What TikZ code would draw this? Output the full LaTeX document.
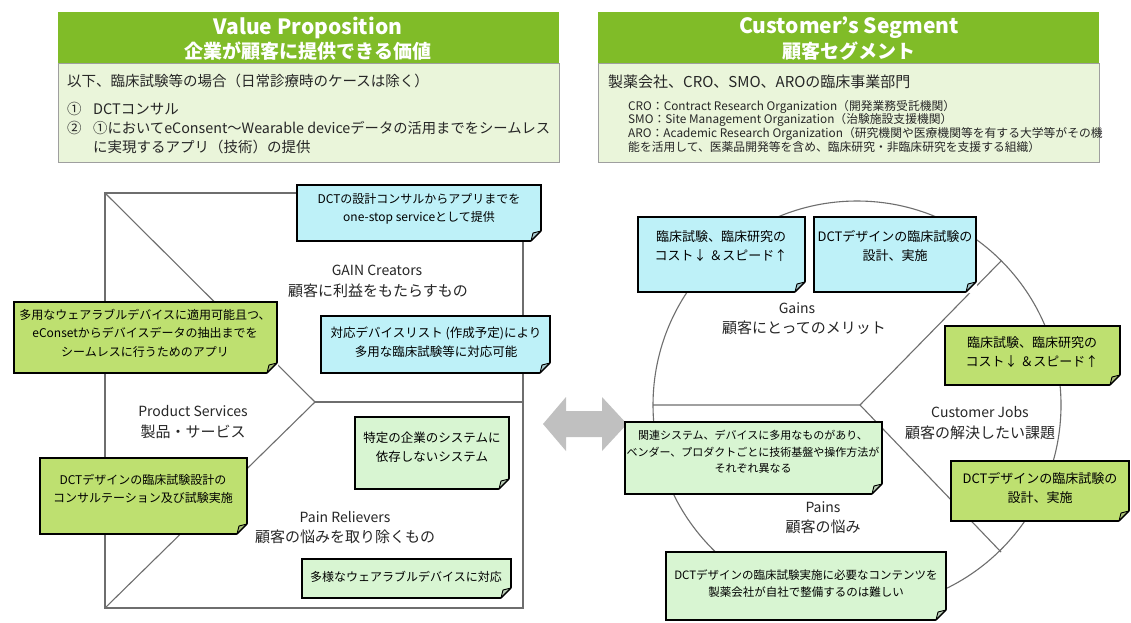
\documentclass[tikz,border=0pt]{standalone}
\usepackage{fontspec}
\setmainfont{Noto Sans CJK JP}
\definecolor{hdrgreen}{HTML}{80BC28}
\definecolor{hdrlight}{HTML}{EAF5DA}
\definecolor{noteblue}{HTML}{BEF1F8}
\definecolor{notegreen}{HTML}{BEE070}
\definecolor{notelight}{HTML}{D8F5D2}
\definecolor{linegray}{HTML}{6E6E6E}
\definecolor{arrowgray}{HTML}{C0C0C0}
\definecolor{txtdark}{HTML}{262626}
\newcommand\fsz[2]{\fontsize{#1}{#2}\selectfont}
\newcommand\fold[2]{%
  \fill[white] ([xshift=-10.5pt,yshift=-1pt]#1.south east) -- ([xshift=1pt,yshift=10.5pt]#1.south east) -- ([xshift=1pt,yshift=-1pt]#1.south east) -- cycle;
  \filldraw[fill=#2!65!gray, draw=black, line width=0.9pt, line join=round] ([xshift=-10pt]#1.south east) -- ([xshift=-8pt,yshift=8pt]#1.south east) -- ([yshift=10pt]#1.south east) -- cycle;
  \draw[black, line width=1.2pt] ([xshift=-10pt]#1.south east) -- ([yshift=10pt]#1.south east);
}
\tikzset{
  canvas/.style={draw=linegray, line width=1.1pt},
  notebox/.style={draw=black, line width=1.2pt, inner sep=0pt, outer sep=0pt, anchor=north west},
  notetxt/.style={align=center, inner sep=0pt, text=black, font=\fsz{12}{18.5}},
  lbl/.style={align=center, inner sep=0pt, text=txtdark},
  hdrbox/.style={fill=hdrgreen, inner sep=0pt, outer sep=0pt, anchor=north west, minimum width=501pt, minimum height=51pt},
  bodybox/.style={fill=hdrlight, draw=gray!75, line width=0.8pt, inner sep=0pt, outer sep=0pt, anchor=north west, minimum width=501pt, minimum height=99pt},
  hdrtxt/.style={inner sep=0pt, text=white, font=\bfseries},
  bodytxt/.style={inner sep=0pt, anchor=west, text=txtdark},
}
\begin{document}
\begin{tikzpicture}[x=1pt,y=-1pt]
\useasboundingbox[fill=white] (0,0) rectangle (1131,622);

% ---------- headers ----------
\node[hdrbox] (hl) at (58,12) {};
\node[bodybox] (hlb) at (58,63) {};
\node[hdrtxt, font=\bfseries\fsz{21}{24}] (hlt1) at (308,28) {Value Proposition};
\node[hdrtxt, font=\bfseries\fsz{19}{23}] (hlt2) at (308,51) {企業が顧客に提供できる価値};
\node[bodytxt, font=\fsz{14.5}{17}] (hla) at (67,81) {以下、臨床試験等の場合（日常診療時のケースは除く）};
\node[bodytxt, font=\fsz{14.5}{17}] (hln1) at (67,109) {①};
\node[bodytxt, font=\fsz{14.5}{17}] (hl1) at (93,109) {DCTコンサル};
\node[bodytxt, font=\fsz{14.5}{17}] (hln2) at (67,128) {②};
\node[bodytxt, font=\fsz{14.3}{17}] (hl2) at (93,128) {①においてeConsent～Wearable deviceデータの活用までをシームレス};
\node[bodytxt, font=\fsz{14.5}{17}] (hl3) at (93,147) {に実現するアプリ（技術）の提供};

\node[hdrbox] (hr) at (598,12) {};
\node[bodybox] (hrb) at (598,63) {};
\node[hdrtxt, font=\bfseries\fsz{21}{24}] (hrt1) at (849,28) {Customer’s Segment};
\node[hdrtxt, font=\bfseries\fsz{19}{23}] (hrt2) at (849,51) {顧客セグメント};
\node[bodytxt, font=\fsz{15}{17}] (hra) at (608,82) {製薬会社、CRO、SMO、AROの臨床事業部門};
\node[bodytxt, anchor=north west, align=left, font=\fsz{11.8}{13.6}] (hrs) at (628,100) {CRO：Contract Research Organization（開発業務受託機関）\\SMO：Site Management Organization（治験施設支援機関）\\ARO：Academic Research Organization（研究機関や医療機関等を有する大学等がその機\\能を活用して、医薬品開発等を含め、臨床研究・非臨床研究を支援する組織）};

% ---------- left canvas ----------
\coordinate (ctl) at (105,193);
\coordinate (ctr) at (523,193);
\coordinate (cbr) at (523,608);
\coordinate (cbl) at (105,608);
\coordinate (cv) at (315,402);
\coordinate (cvr) at (523,402);
\draw[canvas] (ctl) -- (ctr) -- (cbr) -- (cbl) -- cycle;
\draw[canvas] (ctl) -- (cv) -- (cbl);
\draw[canvas] (cv) -- (cvr);

% ---------- right circle ----------
\coordinate (cc) at (857,405);
\draw[canvas] (cc) circle[radius=204];
\coordinate (rv) at (860,405);
\coordinate (rl) at (653,405);
\coordinate (rur) at (1001,261);
\coordinate (rlr) at (1001,552);
\draw[canvas] (rl) -- (rv) -- (rur);
\draw[canvas] (rv) -- (rlr);

% ---------- arrow ----------
\fill[arrowgray] (543,424) -- (566,397) -- (566,411) -- (602,411) -- (602,397) -- (627,424) -- (602,451) -- (602,437) -- (566,437) -- (566,451) -- cycle;

% ---------- left notes ----------
\node[notebox, fill=noteblue, minimum width=244pt, minimum height=56pt] (lb1) at (297,185) {};
\fold{lb1}{noteblue}
\node[notetxt] (lb1t) at (419,209) {DCTの設計コンサルからアプリまでを\\one-stop serviceとして提供};

\node[notebox, fill=notegreen, minimum width=263pt, minimum height=71pt] (lg1) at (14,302) {};
\fold{lg1}{notegreen}
\node[notetxt] (lg1t) at (145,333) {多用なウェアラブルデバイスに適用可能且つ、\\eConsetからデバイスデータの抽出までを\\シームレスに行うためのアプリ};

\node[notebox, fill=noteblue, minimum width=229pt, minimum height=57pt] (lb2) at (321,316) {};
\fold{lb2}{noteblue}
\node[notetxt, font=\fsz{12.5}{19}] (lb2t) at (436,342) {対応デバイスリスト (作成予定)により\\多用な臨床試験等に対応可能};

\node[notebox, fill=notelight, minimum width=154pt, minimum height=72pt] (lg2) at (355,417) {};
\fold{lg2}{notelight}
\node[notetxt, font=\fsz{12.5}{19}] (lg2t) at (432,447) {特定の企業のシステムに\\依存しないシステム};

\node[notebox, fill=notegreen, minimum width=207pt, minimum height=76pt] (lg3) at (40,458) {};
\fold{lg3}{notegreen}
\node[notetxt] (lg3t) at (143,489) {DCTデザインの臨床試験設計の\\コンサルテーション及び試験実施};

\node[notebox, fill=notelight, minimum width=209pt, minimum height=39pt] (lg4) at (302,559) {};
\fold{lg4}{notelight}
\node[notetxt] (lg4t) at (406,577) {多様なウェアラブルデバイスに対応};

% left labels
\node[lbl, font=\fsz{14}{16}] (gcl) at (377,270) {GAIN Creators};
\node[lbl, font=\fsz{15}{17}] (gcj) at (378,291) {顧客に利益をもたらすもの};
\node[lbl, font=\fsz{14}{16}] (psl) at (193,411) {Product Services};
\node[lbl, font=\fsz{15}{17}] (psj) at (193,432) {製品・サービス};
\node[lbl, font=\fsz{14}{16}] (prl) at (345,517) {Pain Relievers};
\node[lbl, font=\fsz{15}{17}] (prj) at (345,537) {顧客の悩みを取り除くもの};

% ---------- right notes ----------
\node[notebox, fill=noteblue, minimum width=167pt, minimum height=75pt] (rb1) at (638,217) {};
\fold{rb1}{noteblue}
\node[notetxt, font=\fsz{13}{18.5}] (rb1t) at (721,246) {臨床試験、臨床研究の\\コスト↓ ＆スピード↑};

\node[notebox, fill=noteblue, minimum width=162pt, minimum height=75pt] (rb2) at (814,217) {};
\fold{rb2}{noteblue}
\node[notetxt, font=\fsz{13}{18.5}] (rb2t) at (895,246) {DCTデザインの臨床試験の\\設計、実施};

\node[notebox, fill=notegreen, minimum width=175pt, minimum height=59pt] (rg1) at (945,326) {};
\fold{rg1}{notegreen}
\node[notetxt, font=\fsz{13}{18.5}] (rg1t) at (1032,352) {臨床試験、臨床研究の\\コスト↓ ＆スピード↑};

\node[notebox, fill=notelight, minimum width=257pt, minimum height=72pt] (rl1) at (625,422) {};
\fold{rl1}{notelight}
\node[notetxt, font=\fsz{11}{16.5}] (rl1t) at (753,452) {関連システム、デバイスに多用なものがあり、\\ベンダー、プロダクトごとに技術基盤や操作方法が\\それぞれ異なる};

\node[notebox, fill=notegreen, minimum width=178pt, minimum height=60pt] (rg2) at (951,461) {};
\fold{rg2}{notegreen}
\node[notetxt, font=\fsz{13}{18.5}] (rg2t) at (1040,488) {DCTデザインの臨床試験の\\設計、実施};

\node[notebox, fill=notelight, minimum width=280pt, minimum height=68pt] (rl2) at (666,552) {};
\fold{rl2}{notelight}
\node[notetxt, font=\fsz{11.5}{17}] (rl2t) at (806,584) {DCTデザインの臨床試験実施に必要なコンテンツを\\製薬会社が自社で整備するのは難しい};

% right labels
\node[lbl, font=\fsz{14}{16}] (gnl) at (797,308) {Gains};
\node[lbl, font=\fsz{15}{17}] (gnj) at (804,328) {顧客にとってのメリット};
\node[lbl, font=\fsz{14}{16}] (cjl) at (980,412) {Customer Jobs};
\node[lbl, font=\fsz{15}{17}] (cjj) at (980,433) {顧客の解決したい課題};
\node[lbl, font=\fsz{14}{16}] (pnl) at (823,507) {Pains};
\node[lbl, font=\fsz{15}{17}] (pnj) at (823,527) {顧客の悩み};
\end{tikzpicture}
\end{document}
